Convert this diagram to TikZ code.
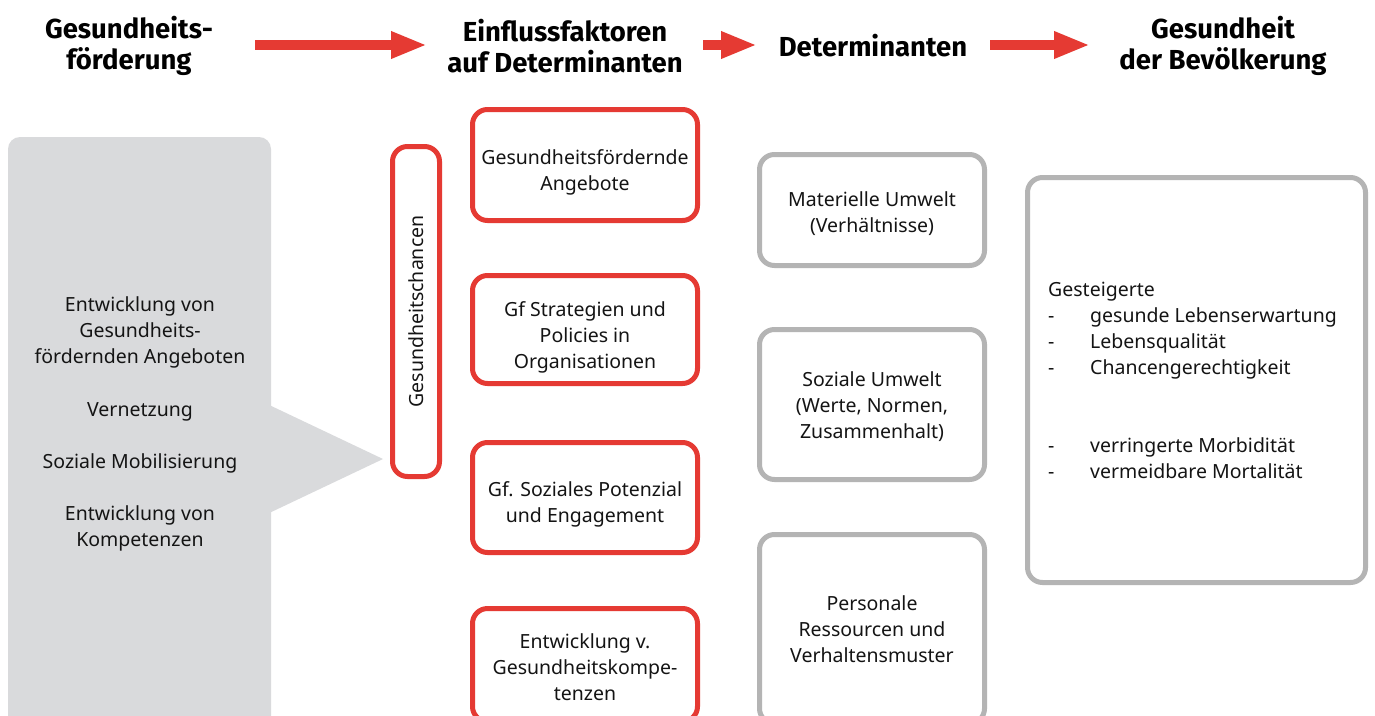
\documentclass[tikz,border=0pt]{standalone}
\usepackage{fontspec}
\setmainfont{Noto Sans}
\newfontfamily\headfont{Fira Sans}
\usetikzlibrary{arrows.meta}
\definecolor{gfred}{RGB}{229,58,51}
\definecolor{gfgrey}{RGB}{180,180,180}
\definecolor{gffill}{RGB}{217,218,220}
\definecolor{gftext}{RGB}{20,20,20}
\begin{document}
\begin{tikzpicture}[x=1pt,y=-1pt,
  head/.style={font=\headfont\bfseries\fontsize{27.5}{31}\selectfont, align=center, inner sep=0pt, text=black},
  body/.style={font=\fontsize{19.5}{26}\selectfont, align=center, text=gftext},
  redbox/.style={draw=gfred, line width=5pt, rounded corners=15pt, minimum width=225pt, inner sep=0pt},
  greybox/.style={draw=gfgrey, line width=5pt, rounded corners=15pt, minimum width=225pt, inner sep=0pt},
  bigarrow/.style={draw=gfred, line width=10pt, -{Triangle[length=36pt,width=25pt]}}
]
\clip (0,0) rectangle (1375,715);
\fill[white] (0,0) rectangle (1375,715);

% headers
\node[head] (h1) at (129,46) {Gesundheits-\\förderung};
\node[head] (h2) at (565,46) {Einflussfaktoren\\auf Determinanten};
\node[head] (h3) at (873,46) {Determinanten};
\node[head] (h4) at (1223,46) {Gesundheit\\der Bevölkerung};

% header arrows
\coordinate (a1s) at (255,45); \coordinate (a1e) at (427,45);
\coordinate (a2s) at (703,45); \coordinate (a2e) at (757,45);
\coordinate (a3s) at (990,45); \coordinate (a3e) at (1090,45);
\draw[bigarrow] (a1s) -- (a1e);
\draw[bigarrow] (a2s) -- (a2e);
\draw[bigarrow] (a3s) -- (a3e);

% grey block with pointer
\fill[gffill, rounded corners=12pt] (8,137) -- (271,137) -- (271,760) -- (8,760) -- cycle;
\fill[gffill] (265,403) -- (383,459) -- (265,515) -- cycle;
\node[body] (gftxt) at (140,424) {Entwicklung von\\Gesundheits-\\fördernden Angeboten\\[26.5pt]Vernetzung\\[26pt]Soziale Mobilisierung\\[26pt]Entwicklung von\\Kompetenzen};

% vertical box
\node[redbox, body, rotate=90, minimum width=330pt, minimum height=47pt] (chance) at (416,311.5) {Gesundheitschancen};

% red boxes
\node[redbox, minimum height=111pt] (r1) at (585,165) {};
\node[redbox, minimum height=108pt] (r2) at (585,329.5) {};
\node[redbox, minimum height=110pt] (r3) at (585,497.5) {};
\node[redbox, minimum height=113pt] (r4) at (585,665) {};
\node[body] (r1t) at (585,172) {Gesundheitsfördernde\\Angebote};
\node[body] (r2t) at (585,337) {Gf Strategien und\\Policies in\\Organisationen};
\node[body] (r3t) at (585,504) {Gf. Soziales Potenzial\\und Engagement};
\node[body] (r4t) at (585,667) {Entwicklung v.\\Gesundheitskompe-\\tenzen};

% grey boxes
\node[greybox, minimum height=111pt] (g1) at (872,210) {};
\node[greybox, minimum height=150pt] (g2) at (872,404.5) {};
\node[greybox, minimum height=189pt] (g3) at (872,629) {};
\node[body] (g1t) at (872,214) {Materielle Umwelt\\(Verhältnisse)};
\node[body] (g2t) at (872,406.5) {Soziale Umwelt\\(Werte, Normen,\\Zusammenhalt)};
\node[body] (g3t) at (872,629) {Personale\\Ressourcen und\\Verhaltensmuster};

% outcome box
\node[greybox, minimum width=338pt, minimum height=405pt] (out) at (1196.5,380) {};
\node[body, align=left, anchor=west, inner sep=0pt] (outtxt) at (1048,380.5) {Gesteigerte\\
\makebox[42pt][l]{-}gesunde Lebenserwartung\\
\makebox[42pt][l]{-}Lebensqualität\\
\makebox[42pt][l]{-}Chancengerechtigkeit\\[52pt]
\makebox[42pt][l]{-}verringerte Morbidität\\
\makebox[42pt][l]{-}vermeidbare Mortalität};
\end{tikzpicture}
\end{document}
